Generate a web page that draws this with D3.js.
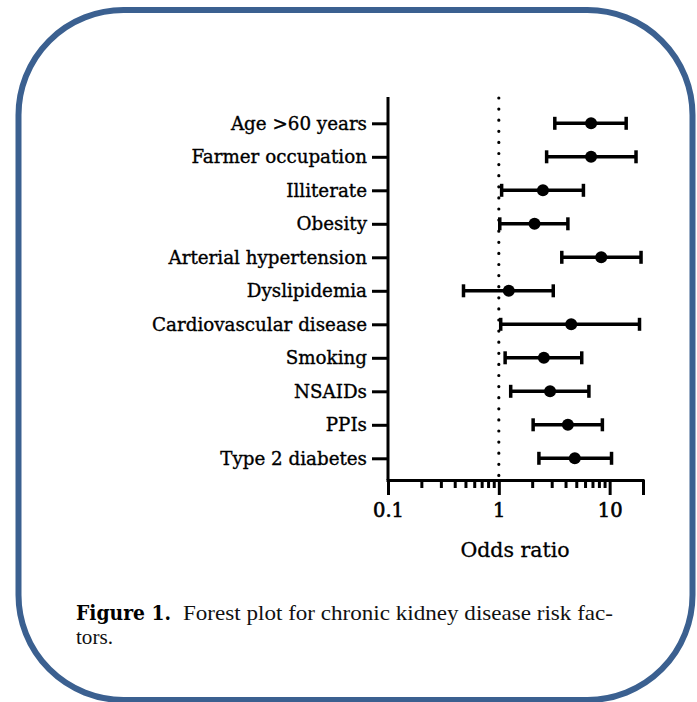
<!DOCTYPE html>
<html>
<head>
<meta charset="utf-8">
<script src="https://cdn.jsdelivr.net/npm/d3@7"></script>
<style>
  html, body { margin: 0; padding: 0; background: #fff; }
  svg { display: block; }
</style>
</head>
<body>
<svg id="chart" width="697" height="702"></svg>
<script>
// ---- data ----
const categories = ["Age >60 years", "Farmer occupation", "Illiterate", "Obesity",
  "Arterial hypertension", "Dyslipidemia", "Cardiovascular disease", "Smoking",
  "NSAIDs", "PPIs", "Type 2 diabetes"];
const oddsRatio = [6.8, 6.8, 2.5, 2.1, 8.4, 1.23, 4.5, 2.55, 2.9, 4.2, 4.85];
const ciLower   = [3.2, 2.7, 1.06, 1.02, 3.7, 0.48, 1.04, 1.14, 1.28, 2.04, 2.3];
const ciUpper   = [14.1, 17.3, 5.8, 4.2, 19.2, 3.1, 18.6, 5.6, 6.5, 8.6, 10.4];
const majorTicks = [0.1, 1, 10];
const majorTickLabels = ["0.1", "1", "10"];
const minorTicks = [0.2, 0.3, 0.4, 0.5, 0.6, 0.7, 0.8, 0.9, 2, 3, 4, 5, 6, 7, 8, 9];
const endTick = [20];
const xDomain = [0.1, 20];
const xTitle = "Odds ratio";
const captionBold = "Figure 1.";
const captionLine1 = "Forest plot for chronic kidney disease risk fac-";
const captionLine2 = "tors.";

// ---- layout ----
const svg = d3.select("#chart");
const plotLeft = 388, plotRight = 643, plotTop = 97, axisY = 480;

// frame
svg.append("rect")
  .attr("x", 18.5).attr("y", 10).attr("width", 674).attr("height", 690)
  .attr("rx", 105).attr("ry", 105)
  .attr("fill", "#fff").attr("stroke", "#3b6090").attr("stroke-width", 6);

const x = d3.scaleLog().domain(xDomain).range([plotLeft, plotRight]);
const y = d3.scalePoint().domain(categories).range([123.3, 458.3]);

const labelFont = "'DejaVu Serif', serif";
const captionFont = "'Liberation Serif', 'Times New Roman', serif";

// reference dotted line at OR = 1
svg.append("line")
  .attr("x1", x(1)).attr("x2", x(1))
  .attr("y1", plotTop + 1).attr("y2", axisY)
  .attr("stroke", "#000").attr("stroke-width", 3.2)
  .attr("stroke-linecap", "round")
  .attr("stroke-dasharray", "0 11.1");

// y axis
const yAxis = svg.append("g")
  .attr("transform", `translate(${plotLeft},0)`)
  .call(d3.axisLeft(y).tickSize(16).tickPadding(5).tickSizeOuter(0));
yAxis.select(".domain").remove();
yAxis.selectAll(".tick line").attr("stroke", "#000").attr("stroke-width", 3);
yAxis.selectAll(".tick text")
  .attr("font-family", labelFont).attr("font-size", 18.3)
  .attr("fill", "#000").attr("stroke", "#000").attr("stroke-width", 0.35);
svg.append("line")
  .attr("x1", plotLeft).attr("x2", plotLeft).attr("y1", plotTop).attr("y2", axisY)
  .attr("stroke", "#000").attr("stroke-width", 3);

// x axis: minor ticks
const xMinor = svg.append("g")
  .attr("transform", `translate(0,${axisY})`)
  .call(d3.axisBottom(x).tickValues(minorTicks).tickSize(8).tickFormat(""));
xMinor.select(".domain").remove();
xMinor.selectAll(".tick line").attr("stroke", "#000").attr("stroke-width", 3);

// x axis: end tick
const xEnd = svg.append("g")
  .attr("transform", `translate(0,${axisY})`)
  .call(d3.axisBottom(x).tickValues(endTick).tickSize(15).tickFormat(""));
xEnd.select(".domain").remove();
xEnd.selectAll(".tick line").attr("stroke", "#000").attr("stroke-width", 3);

// x axis: major ticks + labels
const xMajor = svg.append("g")
  .attr("transform", `translate(0,${axisY})`)
  .call(d3.axisBottom(x).tickValues(majorTicks).tickSize(15).tickSizeOuter(0)
    .tickPadding(8).tickFormat((d, i) => majorTickLabels[i]));
xMajor.select(".domain").attr("stroke", "#000").attr("stroke-width", 3)
  .attr("d", `M${plotLeft - 1.5},0.5H${plotRight + 1.5}`);
xMajor.selectAll(".tick line").attr("stroke", "#000").attr("stroke-width", 3);
xMajor.selectAll(".tick text")
  .attr("font-family", labelFont).attr("font-size", 19.5)
  .attr("fill", "#000").attr("stroke", "#000").attr("stroke-width", 0.6);

// x title
svg.append("text")
  .attr("x", 515).attr("y", 557)
  .attr("text-anchor", "middle")
  .attr("font-family", labelFont).attr("font-size", 20.5)
  .attr("fill", "#000").attr("stroke", "#000").attr("stroke-width", 0.3)
  .text(xTitle);

// error bars
const rows = categories.map((c, i) => ({ c, or: oddsRatio[i], lo: ciLower[i], hi: ciUpper[i] }));
const g = svg.append("g");
const capH = 13;
rows.forEach(d => {
  const yy = y(d.c);
  g.append("line").attr("x1", x(d.lo)).attr("x2", x(d.hi)).attr("y1", yy).attr("y2", yy)
    .attr("stroke", "#000").attr("stroke-width", 3.5);
  [d.lo, d.hi].forEach(v => {
    g.append("line").attr("x1", x(v)).attr("x2", x(v))
      .attr("y1", yy - capH / 2).attr("y2", yy + capH / 2)
      .attr("stroke", "#000").attr("stroke-width", 3.5);
  });
  g.append("circle").attr("cx", x(d.or)).attr("cy", yy).attr("r", 6).attr("fill", "#000");
});

// caption
svg.append("text")
  .attr("x", 76).attr("y", 620)
  .attr("font-family", "'DejaVu Serif', serif").attr("font-weight", "bold")
  .attr("font-size", 19.5).attr("fill", "#000")
  .attr("textLength", 95).attr("lengthAdjust", "spacingAndGlyphs")
  .text(captionBold);
svg.append("text")
  .attr("x", 183).attr("y", 620)
  .attr("font-family", captionFont).attr("font-size", 22)
  .attr("textLength", 430).attr("lengthAdjust", "spacingAndGlyphs")
  .attr("fill", "#111")
  .text(captionLine1);
svg.append("text")
  .attr("x", 76).attr("y", 644)
  .attr("font-family", captionFont).attr("font-size", 20)
  .attr("textLength", 37).attr("lengthAdjust", "spacingAndGlyphs")
  .attr("fill", "#111")
  .text(captionLine2);
</script>
</body>
</html>
